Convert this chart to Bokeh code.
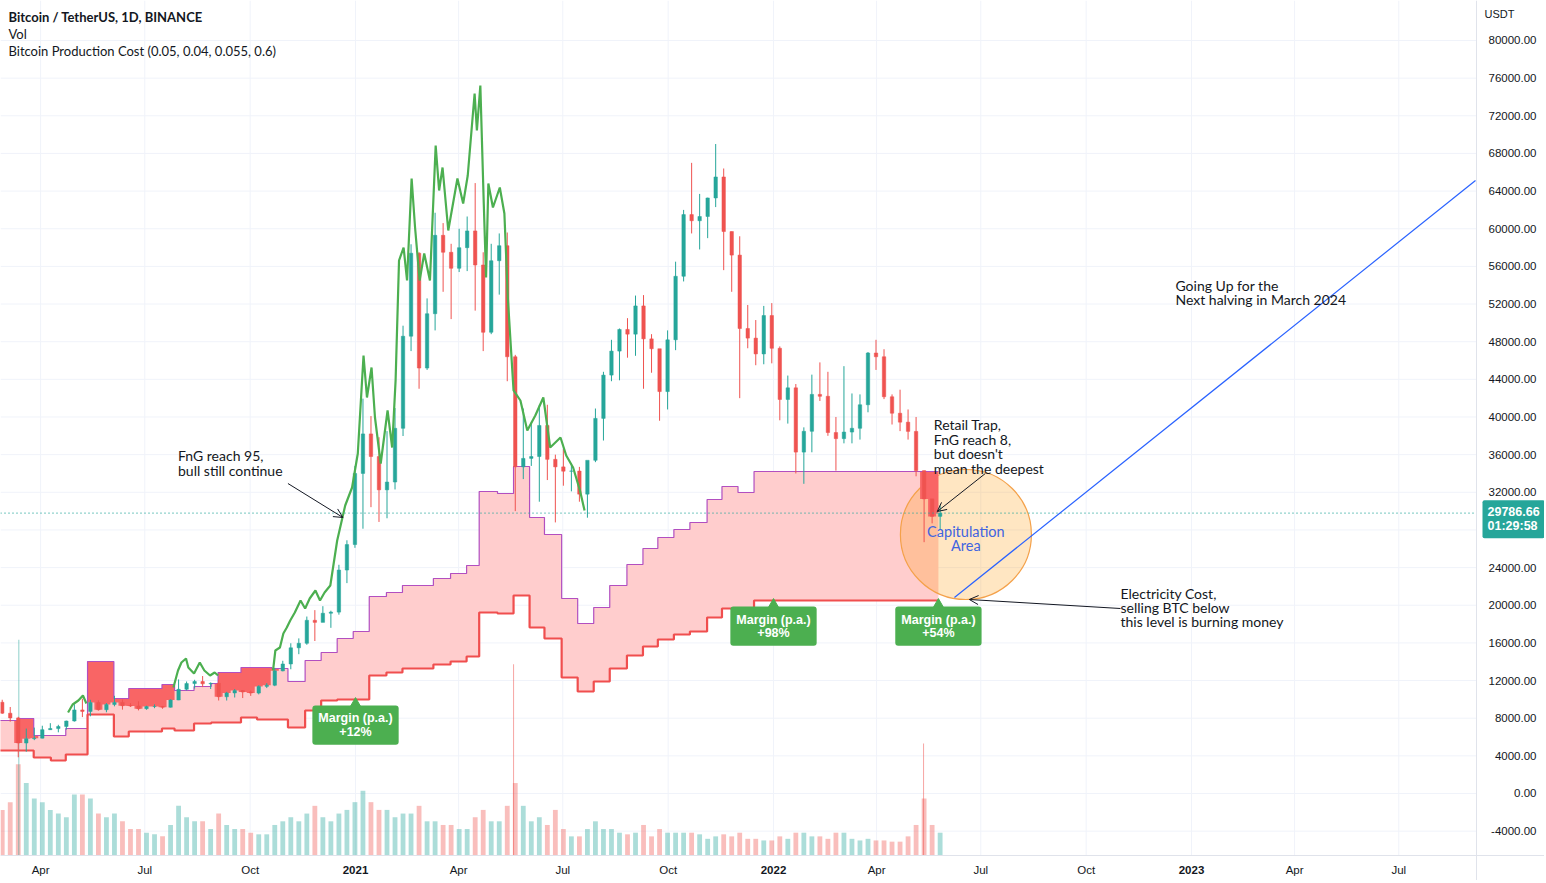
import numpy as np
import pandas as pd
from datetime import datetime, timedelta
from bokeh.plotting import figure
from bokeh.models import Range1d, Label, Arrow, OpenHead
from bokeh.core.properties import value
from bokeh.embed import file_html
from bokeh.resources import INLINE

# ---------------- data ----------------
first_week = "2020-02-24"
first_open = 9690
week_high = [9960, 9190, 8150, 6900, 7000, 7200, 7470, 7300, 7740, 9480, 10070, 9950, 9900, 9600, 10380, 9980, 9600, 9790, 9320, 9470,
             9300, 10000, 12120, 11900, 12080, 12480, 11800, 12090, 10800, 11100, 10990, 10950, 11490, 11720, 13350, 14100, 15960, 16480, 18800, 19480,
             19900, 19420, 24300, 26900, 34800,
             41950, 40100, 37850, 38500, 40950, 49700, 58350, 57500, 52600, 61700, 60600, 58400, 60000, 61300, 64850, 57500, 58400, 59500, 59600, 46600,
             40900, 39500, 41300, 41300, 36000, 36600, 35100, 34700, 34800, 40900, 44800, 48200, 49400, 50500, 52900, 52950, 48800, 45500, 49200, 56500,
             62000, 67000, 63700, 63300, 69000, 66400, 59700, 59200, 51900, 50300, 51800, 52100,
             47500, 44400, 43500, 38900, 44500, 45800, 44800, 40000, 45400, 42500, 42400, 46900, 48200, 47200, 42400, 42900, 40800, 40000, 34300, 31300, 30600]
week_low = [8460, 7630, 3850, 4440, 5670, 5860, 6770, 6500, 6780, 7640, 8120, 8200, 8800, 8630, 9260, 8910, 9200, 8830, 8900, 9060,
            9000, 9140, 9920, 10950, 11150, 11300, 11100, 9880, 9880, 10200, 10140, 10370, 10530, 11200, 11400, 12980, 13200, 14800, 15800, 16200,
            18200, 17600, 19000, 22350, 26100,
            28130, 30420, 28850, 29240, 32300, 37980, 47000, 43000, 45000, 49200, 53300, 50400, 55400, 55500, 51300, 47000, 48800, 53000, 43800, 30000,
            33400, 34800, 31000, 33300, 28800, 32700, 32100, 31000, 29300, 35200, 37500, 43800, 43900, 46300, 46500, 43000, 44700, 39600, 40800, 47100,
            54400, 59500, 57800, 59000, 62300, 55600, 53300, 42000, 47300, 45500, 45600, 45700,
            39650, 39300, 34000, 32900, 36250, 41700, 38000, 34300, 37200, 37200, 37600, 40500, 45000, 41900, 39200, 38500, 37600, 33700, 26700, 28700, 28000]
week_close = [8530, 8030, 5360, 5820, 5880, 6780, 6900, 7120, 7700, 8880, 8720, 9670, 8900, 9450, 9680, 9330, 9300, 9010, 9240, 9240,
              9160, 9930, 11070, 11680, 11900, 11650, 11700, 10280, 10680, 10930, 10780, 10670, 11380, 11500, 13030, 13760, 15480, 15960, 18400, 18180,
              19150, 19270, 23740, 26450, 34000,
              38200, 35800, 32260, 33090, 38800, 48580, 57400, 45200, 50970, 59300, 57500, 55800, 57990, 59770, 56150, 49000, 56600, 58200, 46400, 34700,
              35600, 35800, 39100, 35500, 34700, 34240, 34260, 31800, 35400, 39850, 44450, 47000, 49300, 48800, 51800, 48300, 47250, 42700, 48200, 54950,
              61500, 60850, 61300, 63270, 65500, 59700, 57200, 49400, 48380, 46700, 50780, 47300,
              41860, 43100, 36270, 38480, 42400, 42200, 38350, 37700, 38400, 38800, 41300, 46800, 46400, 42150, 40400, 39450, 38470, 34300, 31300, 29440, 29786.66]
# average daily volume per week (thousand BTC)
week_vol = [112, 131, 224, 178, 140, 131, 112, 103, 94, 150, 150, 140, 103, 94, 103, 84, 65, 65, 56, 52,
            47, 75, 122, 94, 84, 84, 65, 103, 75, 65, 65, 56, 52, 52, 75, 84, 94, 84, 103, 122,
            94, 84, 103, 112, 131,
            159, 131, 112, 112, 94, 103, 103, 122, 84, 84, 75, 75, 65, 65, 94, 112, 84, 84, 122, 178,
            122, 84, 94, 75, 112, 65, 47, 47, 65, 84, 65, 65, 56, 52, 56, 75, 47, 65, 56, 56,
            56, 56, 52, 41, 47, 52, 47, 56, 41, 41, 37, 37,
            47, 41, 56, 56, 47, 47, 41, 56, 56, 41, 37, 41, 37, 37, 34, 34, 47, 75, 140, 75, 56]
spike_dates = ["2020-03-13", "2021-05-19", "2022-05-12"]
spike_vols = [530, 470, 275]

# indicator: production cost (upper) and electricity cost (lower), step values
cost_dates = ["2020-02-24", "2020-03-12", "2020-03-26", "2020-04-10", "2020-04-23", "2020-05-12", "2020-06-04", "2020-06-17", "2020-07-16", "2020-07-27",
              "2020-08-13", "2020-08-28", "2020-09-03", "2020-09-23", "2020-10-07", "2020-10-20", "2020-11-03", "2020-11-18", "2020-12-02", "2020-12-16",
              "2020-12-30", "2021-01-13", "2021-01-28", "2021-02-11", "2021-03-10", "2021-03-25", "2021-04-08", "2021-04-19", "2021-05-05", "2021-05-19",
              "2021-06-02", "2021-06-15", "2021-06-30", "2021-07-14", "2021-07-28", "2021-08-11", "2021-08-26", "2021-09-09", "2021-09-22", "2021-10-06",
              "2021-10-20", "2021-11-04", "2021-11-17", "2021-12-01", "2021-12-15"]
cost_end = "2022-05-25"
prod_cost = [7756, 7968, 6162, 6162, 6906, 14024, 10093, 11155, 11580, 10943,
             11368, 11686, 12855, 13386, 13386, 13280, 11899, 14130, 14980, 16467,
             17211, 20929, 21354, 22098, 22842, 23373, 24223, 32084, 31872, 34740,
             29322, 27516, 20717, 18061, 19760, 22098, 24329, 26029, 27197, 28047,
             28791, 31235, 32616, 31978, 34209]
elec_cost = [4568, 4568, 3825, 3506, 4143, 8393, 6056, 6587, 6906, 6693,
             7437, 7543, 7543, 8074, 7862, 7862, 7012, 8818, 9880, 9987,
             9987, 12536, 12855, 13280, 13705, 14024, 14555, 19229, 19123, 21036,
             17636, 16467, 12324, 10836, 11899, 13280, 14661, 15617, 16361, 16892,
             17211, 18698, 19654, 19442, 20504]

# green upper line of the indicator (breaks = NaN)
nan = float("nan")
green_dates = ["2020-04-25", "2020-04-29", "2020-05-04", "2020-05-08", "2020-05-11", "2020-05-12",
               "2020-07-26", "2020-07-30", "2020-08-02", "2020-08-06", "2020-08-08", "2020-08-13", "2020-08-18", "2020-08-22", "2020-08-27", "2020-08-31", "2020-09-03", "2020-09-04",
               "2020-10-21", "2020-10-23", "2020-10-27", "2020-10-30", "2020-11-02", "2020-11-05", "2020-11-09", "2020-11-14", "2020-11-18", "2020-11-22",
               "2020-11-27", "2020-12-01", "2020-12-05", "2020-12-10", "2020-12-16", "2020-12-23", "2020-12-29", "2021-01-03", "2021-01-08", "2021-01-11",
               "2021-01-15", "2021-01-18", "2021-01-23", "2021-01-29", "2021-02-02", "2021-02-05", "2021-02-08", "2021-02-12", "2021-02-15", "2021-02-19",
               "2021-02-22", "2021-02-26", "2021-03-02", "2021-03-07", "2021-03-12", "2021-03-15", "2021-03-18", "2021-03-23", "2021-03-31", "2021-04-05",
               "2021-04-09", "2021-04-15", "2021-04-17", "2021-04-20", "2021-04-23", "2021-04-25", "2021-04-27", "2021-05-01", "2021-05-07", "2021-05-11",
               "2021-05-14", "2021-05-19", "2021-05-25", "2021-05-31", "2021-06-07", "2021-06-14", "2021-06-20", "2021-06-29", "2021-07-04", "2021-07-10",
               "2021-07-16", "2021-07-20"]
green_vals = [8605, 9455, 9880, 10412, 9562, nan,
              11261, 13068, 13917, 14342, 13386, 12749, 13917, 13068, 12536, 12855, 12536, nan,
              13068, 15192, 15511, 16998, 17636, 18380, 19229, 20504, 19654, 20717,
              21567, 20504, 21354, 22098, 26879, 30597, 32509, 36122, 46533, 42071,
              45258, 39946, 35059, 40690, 36759, 43877, 56626, 58007, 54501, 65338,
              60132, 54501, 57370, 54501, 68844, 64063, 66506, 59813, 65338, 62682,
              65656, 74368, 70437, 75218, 62682, 54820, 64806, 62256, 64381, 61619,
              52695, 42815, 41752, 38565, 40159, 42071, 36759, 37821, 35909, 34634,
              32191, 30066]

last_price = 29786.66
last_price_text = "29786.66\n01:29:58"
margin_dates = ["2021-01-01", "2022-01-01", "2022-05-25"]
margin_texts = ["Margin (p.a.)\n+12%", "Margin (p.a.)\n+98%", "Margin (p.a.)\n+54%"]

trend_dates = ["2022-06-08", "2023-09-06"]
trend_vals = [20823, 65125]

tick_dates = ["2020-04-01", "2020-07-01", "2020-10-01", "2021-01-01", "2021-04-01", "2021-07-01", "2021-10-01",
              "2022-01-01", "2022-04-01", "2022-07-01", "2022-10-01", "2023-01-01", "2023-04-01", "2023-07-01"]
tick_labels = ["Apr", "Jul", "Oct", "2021", "Apr", "Jul", "Oct", "2022", "Apr", "Jul", "Oct", "2023", "Apr", "Jul"]
price_ticks = list(range(-4000, 80001, 4000))

# ---------------- helpers ----------------
DAY = 86400000.0


def ms(d):
    return pd.Timestamp(d).value / 1e6


def step_at(xs, vals, t):
    i = int(np.searchsorted(xs, t, side="right")) - 1
    return vals[max(i, 0)]


weeks = pd.date_range(first_week, periods=len(week_close), freq="7D")
wstart = np.array([ms(w) for w in weeks])
close = np.array(week_close, dtype=float)
high = np.array(week_high, dtype=float)
low = np.array(week_low, dtype=float)
opens = np.array([first_open] + week_close[:-1], dtype=float)
xc = wstart + 3.5 * DAY
upm = close >= opens
UP, DN = "#26a69a", "#ef5350"
ccol = [UP if u else DN for u in upm]

cost_ms = np.array([ms(d) for d in cost_dates])
end_ms = ms(cost_end)
prod = np.array(prod_cost, dtype=float)
elec = np.array(elec_cost, dtype=float)

bx, bp, be = [], [], []
bounds = list(cost_ms) + [end_ms]
for i in range(len(cost_ms)):
    bx += [bounds[i], bounds[i + 1]]
    bp += [prod[i], prod[i]]
    be += [elec[i], elec[i]]

bps = sorted(set(list(cost_ms) + [w for w in wstart if w < end_ms])) + [end_ms]
rx, rlo, rhi = [], [], []
for i in range(len(bps) - 1):
    t = bps[i]
    pv = step_at(cost_ms, prod, t)
    cv = step_at(wstart, close, t)
    lo = min(pv, cv)
    rx += [bps[i], bps[i + 1]]
    rlo += [lo, lo]
    rhi += [pv, pv]

# ---------------- layout / scales ----------------
W, H = 1544, 880
PX_DAY = 1.1452          # pixels per day
PX_VAL = 1 / 106.24      # pixels per price unit
PLOT_W, PLOT_H = 1476, 855
x0 = ms(datetime(2021, 1, 1) - timedelta(days=310))
x_plot_end = x0 + PLOT_W / PX_DAY * DAY
x_frame_end = x0 + W / PX_DAY * DAY
y_top = 84248
y_plot_bot = y_top - PLOT_H / PX_VAL
y_frame_bot = y_top - H / PX_VAL
VOL_PER_PX = 2100 / PLOT_H

p = figure(width=W, height=H, x_range=Range1d(x0, x_frame_end), y_range=Range1d(y_frame_bot, y_top),
           x_axis_location=None, y_axis_location=None, output_backend="svg", toolbar_location=None,
           min_border=0)
p.grid.visible = False
p.outline_line_color = None
p.background_fill_color = "white"
p.extra_y_ranges = {"vol": Range1d(-(H - PLOT_H) * VOL_PER_PX, PLOT_H * VOL_PER_PX)}

GRID = "#f0f3fa"
tick_ms = [ms(d) for d in tick_dates]
p.segment(x0=tick_ms, y0=[y_plot_bot] * len(tick_ms), x1=tick_ms, y1=[y_top] * len(tick_ms),
          line_color=GRID, line_width=1)
p.segment(x0=[x0] * len(price_ticks), y0=price_ticks, x1=[x_plot_end] * len(price_ticks), y1=price_ticks,
          line_color=GRID, line_width=1)

# pink band
p.varea(x=bx, y1=be, y2=bp, fill_color="#ffcdcd", fill_alpha=1.0)
# capitulation circle
cx = ms("2022-06-18")
p.ellipse(x=cx, y=27516, width=114.4 * DAY, height=13811, fill_color="#ff9800", fill_alpha=0.24,
          line_color="#f4a14a", line_width=1.2)
# red fill
p.varea(x=rx, y1=rlo, y2=rhi, fill_color="#f96565", fill_alpha=1.0)
# volume
p.vbar(x=xc, top=week_vol, bottom=0, width=4.2 * DAY, fill_color=ccol, line_color=None,
       fill_alpha=0.38, y_range_name="vol")
p.vbar(x=[ms(d) for d in spike_dates], top=spike_vols, bottom=0, width=0.9 * DAY,
       fill_color=[UP, DN, DN], line_color=None, fill_alpha=0.5, y_range_name="vol")
# indicator lines
p.line(bx, bp, line_color="#b24fc0", line_width=1.2)
p.line(bx, be, line_color="#f04e4e", line_width=2.2)
# candles
p.segment(x0=xc, y0=high, x1=xc, y1=low, line_color=ccol, line_width=1)
p.vbar(x=xc, top=np.maximum(opens, close), bottom=np.minimum(opens, close), width=3.0 * DAY,
       fill_color=ccol, line_color=ccol, line_width=0.5)
# green upper line
p.line([ms(d) for d in green_dates], green_vals, line_color="#4caf50", line_width=2.2)
# last price dotted line
p.line([x0, x_plot_end], [last_price, last_price], line_color="#26a69a", line_dash="1 3", line_width=1.2)
# trend line
p.line([ms(d) for d in trend_dates], trend_vals, line_color="#2962ff", line_width=1.2)

# plot borders
p.line([x_plot_end, x_plot_end], [y_frame_bot, y_top], line_color="#e0e3eb", line_width=1)
p.line([x0, x_frame_end], [y_plot_bot, y_plot_bot], line_color="#e0e3eb", line_width=1)

# axis labels as text
FONT = value("Liberation Sans")
p.text(x=[x_plot_end] * len(price_ticks), y=price_ticks, text=["%.2f" % v for v in price_ticks],
       x_offset=60, text_align="right", text_baseline="middle", text_color="#131722",
       text_font=FONT, text_font_size=value("11.5px"))
lab_y = y_top - 869 / PX_VAL
mon_x = [t for t, l in zip(tick_ms, tick_labels) if not l.isdigit()]
mon_t = [l for l in tick_labels if not l.isdigit()]
yr_x = [t for t, l in zip(tick_ms, tick_labels) if l.isdigit()]
yr_t = [l for l in tick_labels if l.isdigit()]
p.text(x=mon_x, y=[lab_y] * len(mon_x), text=mon_t, text_align="center", text_baseline="middle",
       text_color="#131722", text_font=FONT, text_font_size=value("11.5px"))
p.text(x=yr_x, y=[lab_y] * len(yr_x), text=yr_t, text_align="center", text_baseline="middle",
       text_color="#131722", text_font=FONT, text_font_size=value("11.5px"), text_font_style="bold")

# margin callouts
for d, t in zip(margin_dates, margin_texts):
    ev = step_at(cost_ms, elec, ms(d))
    p.scatter(x=[ms(d)], y=[ev - 5 / PX_VAL], marker="triangle", size=12, fill_color="#4caf50",
              line_color="#4caf50")
    p.add_layout(Label(x=ms(d), y=ev, y_offset=-6, text=t, text_align="center", text_baseline="top",
                       text_color="white", text_font="Liberation Sans", text_font_style="bold",
                       text_font_size="12.5px", text_line_height=0.95,
                       background_fill_color="#4caf50", padding=6, border_radius=3))

# capitulation text
p.add_layout(Label(x=cx, y=y_top - 522 / PX_VAL, text="Capitulation\nArea", text_align="center",
                   text_baseline="top", text_color="#4164e0", text_font="Lato", text_font_size="14.5px",
                   text_line_height=0.85))


def note(d, v, txt):
    p.add_layout(Label(x=ms(d), y=v, text=txt, text_align="left", text_baseline="top",
                       text_color="#131722", text_font="Lato", text_font_size="14px",
                       text_line_height=0.85))


note("2020-07-30", 36760, "FnG reach 95,\nbull still continue")
note("2022-05-21", 40053, "Retail Trap,\nFnG reach 8,\nbut doesn't\nmean the deepest")
note("2022-12-18", 54900, "Going Up for the\nNext halving in March 2024")
note("2022-10-31", 22200, "Electricity Cost,\nselling BTC below\nthis level is burning money")


def arrow(d0, v0, d1, v1):
    p.add_layout(Arrow(end=OpenHead(size=9, line_width=1, line_color="#131722"),
                       x_start=ms(d0), y_start=v0, x_end=ms(d1), y_end=v1,
                       line_color="#131722", line_width=1))


arrow("2020-11-03", 32934, "2020-12-21", 29322)
arrow("2022-07-05", 33997, "2022-05-24", 29960)
arrow("2022-10-31", 19654, "2022-06-21", 20610)

# legend texts
legend = [("Bitcoin / TetherUS, 1D, BINANCE", "bold"), ("Vol", "normal"),
          ("Bitcoin Production Cost (0.05, 0.04, 0.055, 0.6)", "normal")]
for i, (t, w) in enumerate(legend):
    p.add_layout(Label(x=x0, y=y_top, x_offset=8, y_offset=-16 - 17 * i, text=t, text_baseline="middle",
                       text_color="#131722", text_font="Lato", text_font_size="13px", text_font_style=w))

# price scale header and last price tag
p.add_layout(Label(x=x_plot_end, y=y_top, x_offset=8, y_offset=-13, text="USDT", text_baseline="middle",
                   text_color="#131722", text_font="Liberation Sans", text_font_size="11px"))
p.add_layout(Label(x=x_plot_end, y=last_price, x_offset=6, y_offset=-6, text=last_price_text,
                   text_baseline="middle", text_align="left", text_color="white", text_font="Liberation Sans",
                   text_font_style="bold", text_font_size="12.5px", text_line_height=1.0,
                   background_fill_color="#26a69a", padding=5, border_radius=2))

open("out.html", "w").write(file_html(p, INLINE))
